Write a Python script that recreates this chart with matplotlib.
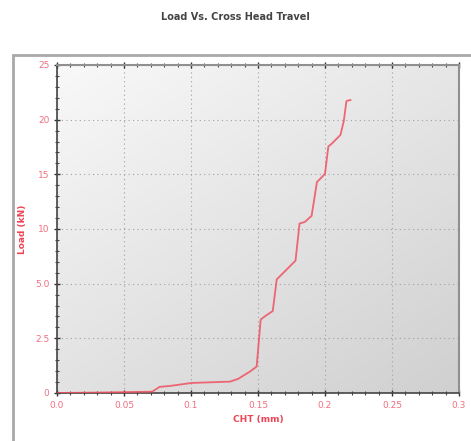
import numpy as np
import matplotlib
matplotlib.use("Agg")
import matplotlib.pyplot as plt
from matplotlib.patches import Rectangle

# data
cht_mm = [0.0, 0.03, 0.071, 0.0765, 0.084, 0.1005, 0.129, 0.135, 0.144, 0.149,
          0.152, 0.155, 0.161, 0.164, 0.1665, 0.178, 0.181, 0.185, 0.190, 0.194,
          0.1965, 0.200, 0.2025, 0.205, 0.2115, 0.214, 0.216, 0.219]
load_kn = [0.0, 0.02, 0.06, 0.28, 0.32, 0.46, 0.52, 0.64, 0.98, 1.21,
           3.36, 3.5, 3.75, 5.4, 5.7, 7.1, 10.5, 10.65, 11.2, 14.3,
           14.6, 15.05, 17.55, 17.8, 18.6, 19.85, 21.7, 21.8]
x_ticks = [0.0, 0.05, 0.1, 0.15, 0.2, 0.25, 0.3]
x_labels = ["0.0", "0.05", "0.1", "0.15", "0.2", "0.25", "0.3"]
y_ticks = [0, 2.5, 5.0, 10, 15, 20, 25]
y_labels = ["0", "2.5", "5.0", "10", "15", "20", "25"]

yt = np.array(y_ticks, dtype=float)
idx = np.arange(len(yt), dtype=float)

def fwd(v):
    return np.interp(v, yt, idx)

def inv(i):
    return np.interp(i, idx, yt)

fig = plt.figure(figsize=(4.71, 4.41), dpi=100)
fig.patch.set_facecolor("white")

# outer frame
fig.patches.append(Rectangle((13/471, -0.05), 1.2, (441-55)/441 + 0.05,
                             transform=fig.transFigure, fill=False,
                             edgecolor="#a8a8a8", lw=2.0))

ax = fig.add_axes([57/471, (441-393)/441, (459-57)/471, (393-65)/441])
ax.set_yscale("function", functions=(fwd, inv))

# gradient background (light top-left -> grey bottom-right)
g = np.linspace(0, 1, 200)
X, Yr = np.meshgrid(g, g)  # Yr = 0 at top row
b = 0.975 - 0.16 * (0.45 * X + 0.55 * Yr)
rgb = np.dstack([b, b, b])
ax.imshow(rgb, extent=[0, 1, 0, 1], transform=ax.transAxes,
          origin="upper", aspect="auto", zorder=0, interpolation="bilinear")

ax.plot(cht_mm, load_kn, color="#f05060", lw=1.3, alpha=0.85, zorder=3)

ax.set_xlim(0, 0.3)
ax.set_ylim(0, 25)
ax.set_xticks(x_ticks)
ax.set_xticklabels(x_labels)
ax.set_yticks(y_ticks)
ax.set_yticklabels(y_labels)
ax.set_xticks(np.arange(0, 0.3001, 0.01), minor=True)
minor_idx = np.arange(0, 6.0001, 0.2)
ax.set_yticks(inv(minor_idx), minor=True)

ax.grid(True, which="major", color="#a0a0a0", linestyle=(0, (1, 3)), lw=0.8)
ax.tick_params(which="major", direction="inout", length=5, width=1.0,
               color="#333333", labelcolor="#f07080", labelsize=6.5,
               top=True, pad=3)
ax.tick_params(which="minor", direction="inout", length=3, width=0.8,
               color="#444444", top=True)
ax.tick_params(axis="y", which="both", right=False)
ax.tick_params(axis="x", which="both", top=True)

for s in ["left", "bottom"]:
    ax.spines[s].set_color("#444444")
    ax.spines[s].set_linewidth(1.2)
for s in ["top", "right"]:
    ax.spines[s].set_color("#909090")
    ax.spines[s].set_linewidth(1.5)

ax.set_xlabel("CHT (mm)", color="#ee4455", fontsize=6.5, fontweight="bold", labelpad=4)
ax.set_ylabel("Load (kN)", color="#ee4455", fontsize=6.5, fontweight="bold", labelpad=6)

fig.text(235/471, 1 - 17/441, "Load Vs. Cross Head Travel", ha="center", va="center",
         fontsize=7, fontweight="bold", color="#444444")

fig.savefig("out.png", dpi=100)
